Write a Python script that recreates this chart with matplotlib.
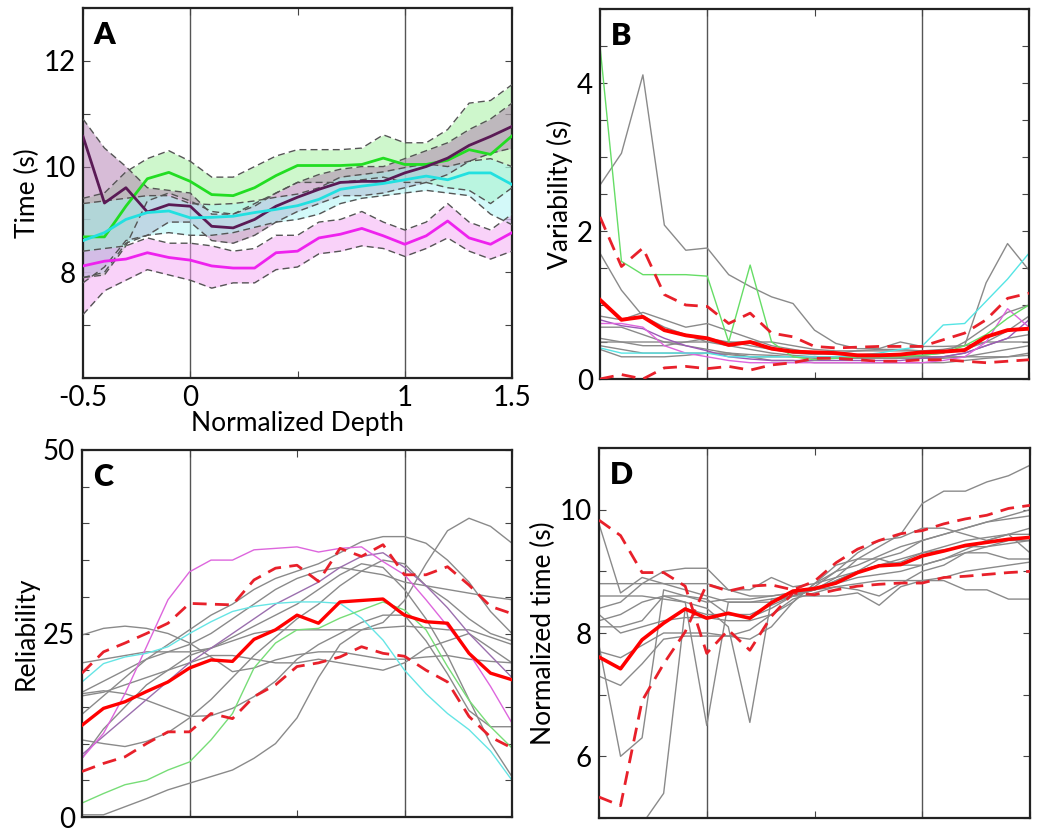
import numpy as np
import matplotlib
matplotlib.use("Agg")
import matplotlib.pyplot as plt

plt.rcParams['font.family'] = ['Lato', 'DejaVu Sans']

depth = [-0.5, -0.4, -0.3, -0.2, -0.1, 0.0, 0.1, 0.2, 0.3, 0.4, 0.5,
         0.6, 0.7, 0.8, 0.9, 1.0, 1.1, 1.2, 1.3, 1.4, 1.5]

# ---------------- Panel A: mean time with bands ----------------
a_green = [8.67, 8.67, 9.25, 9.77, 9.89, 9.72, 9.47, 9.45, 9.6, 9.83, 10.02,
           10.02, 10.02, 10.04, 10.16, 10.04, 10.04, 10.12, 10.32, 10.23, 10.58]
a_green_hi = [9.4, 9.5, 9.9, 10.15, 10.3, 10.1, 9.8, 9.8, 10.0, 10.2, 10.32,
              10.32, 10.32, 10.35, 10.6, 10.45, 10.45, 10.7, 11.2, 11.25, 11.55]
a_green_lo = [7.9, 7.95, 8.5, 9.35, 9.5, 9.35, 9.15, 9.1, 9.25, 9.5, 9.7,
              9.7, 9.7, 9.75, 9.8, 9.7, 9.7, 9.6, 9.55, 9.3, 9.6]

a_purple = [10.57, 9.31, 9.6, 9.14, 9.28, 9.25, 8.87, 8.84, 9.0, 9.25, 9.42,
            9.57, 9.7, 9.72, 9.72, 9.88, 10.0, 10.16, 10.4, 10.57, 10.76]
a_purple_hi = [10.9, 10.35, 10.0, 9.6, 9.55, 9.5, 9.1, 9.1, 9.3, 9.5, 9.7,
               9.85, 9.95, 10.0, 10.0, 10.15, 10.3, 10.45, 10.7, 10.9, 11.2]
a_purple_lo = [7.8, 8.1, 8.6, 8.7, 8.95, 8.95, 8.6, 8.55, 8.7, 8.95, 9.15,
               9.3, 9.45, 9.45, 9.5, 9.6, 9.7, 9.85, 10.1, 10.25, 10.35]

a_cyan = [8.6, 8.75, 9.0, 9.13, 9.16, 9.03, 9.04, 9.06, 9.13, 9.19, 9.26,
          9.38, 9.57, 9.63, 9.68, 9.75, 9.82, 9.75, 9.88, 9.88, 9.66]
a_cyan_hi = [9.3, 9.35, 9.4, 9.45, 9.45, 9.3, 9.28, 9.3, 9.35, 9.42, 9.48,
             9.6, 9.8, 9.85, 9.9, 9.98, 10.05, 10.0, 10.1, 10.15, 10.0]
a_cyan_lo = [7.9, 8.0, 8.55, 8.7, 8.75, 8.7, 8.7, 8.75, 8.85, 8.95, 9.0,
             9.1, 9.3, 9.4, 9.45, 9.5, 9.55, 9.5, 9.45, 9.1, 8.9]

a_mag = [8.12, 8.21, 8.25, 8.37, 8.28, 8.23, 8.12, 8.08, 8.08, 8.37, 8.4,
         8.65, 8.72, 8.83, 8.69, 8.53, 8.69, 8.97, 8.65, 8.53, 8.75]
a_mag_hi = [8.4, 8.45, 8.5, 8.65, 8.55, 8.55, 8.5, 8.4, 8.45, 8.7, 8.7,
            8.95, 9.0, 9.15, 8.95, 8.8, 8.95, 9.3, 8.95, 8.8, 9.1]
a_mag_lo = [7.2, 7.65, 7.85, 8.05, 7.95, 7.85, 7.7, 7.8, 7.8, 8.05, 8.1,
            8.35, 8.4, 8.5, 8.45, 8.3, 8.45, 8.65, 8.4, 8.25, 8.4]

# ---------------- Panel B: variability ----------------
b_mean = [1.07, 0.8, 0.84, 0.66, 0.59, 0.55, 0.46, 0.5, 0.41, 0.37, 0.36,
          0.35, 0.32, 0.32, 0.33, 0.36, 0.37, 0.39, 0.57, 0.66, 0.68]
b_hi = [2.19, 1.52, 1.77, 1.14, 1.0, 0.98, 0.75, 0.89, 0.62, 0.57, 0.44,
        0.42, 0.43, 0.44, 0.44, 0.44, 0.53, 0.62, 0.8, 1.09, 1.16]
b_lo = [0.0, 0.06, 0.0, 0.15, 0.17, 0.14, 0.17, 0.12, 0.19, 0.22, 0.28,
        0.28, 0.26, 0.24, 0.24, 0.26, 0.26, 0.24, 0.22, 0.24, 0.26]
b_green = [4.5, 1.59, 1.41, 1.41, 1.41, 1.39, 0.5, 1.54, 0.5, 0.3, 0.26,
           0.28, 0.3, 0.3, 0.3, 0.32, 0.35, 0.45, 0.6, 0.82, 1.0]
b_cyan = [0.42, 0.35, 0.35, 0.35, 0.35, 0.35, 0.3, 0.3, 0.3, 0.3, 0.3,
          0.3, 0.32, 0.35, 0.4, 0.44, 0.73, 0.75, 1.05, 1.35, 1.7]
b_mag = [0.75, 0.75, 0.7, 0.45, 0.35, 0.3, 0.25, 0.22, 0.22, 0.22, 0.22,
         0.22, 0.22, 0.22, 0.22, 0.22, 0.25, 0.3, 0.5, 0.95, 0.7]
b_purple = [0.8, 0.72, 0.68, 0.55, 0.45, 0.38, 0.3, 0.27, 0.25, 0.25, 0.25,
            0.25, 0.25, 0.25, 0.25, 0.28, 0.3, 0.35, 0.45, 0.55, 0.8]
b_gray = [
    [2.62, 3.05, 4.11, 2.08, 1.74, 1.77, 1.41, 1.25, 1.11, 1.02, 0.66,
     0.48, 0.41, 0.41, 0.5, 0.44, 0.44, 0.45, 1.3, 1.83, 1.47],
    [1.7, 1.2, 0.85, 0.7, 0.6, 0.5, 0.45, 0.4, 0.35, 0.32, 0.3,
     0.3, 0.3, 0.3, 0.3, 0.3, 0.3, 0.35, 0.45, 0.55, 0.6],
    [0.85, 0.8, 0.9, 0.8, 0.7, 0.75, 0.65, 0.55, 0.45, 0.4, 0.35,
     0.33, 0.33, 0.33, 0.3, 0.32, 0.35, 0.5, 0.7, 0.9, 1.0],
    [0.5, 0.5, 0.5, 0.5, 0.5, 0.5, 0.5, 0.5, 0.5, 0.45, 0.4,
     0.38, 0.38, 0.38, 0.38, 0.38, 0.4, 0.45, 0.5, 0.5, 0.5],
    [0.45, 0.4, 0.35, 0.35, 0.35, 0.35, 0.35, 0.33, 0.32, 0.3, 0.28,
     0.28, 0.28, 0.28, 0.28, 0.28, 0.28, 0.3, 0.35, 0.4, 0.45],
    [0.7, 0.7, 0.6, 0.5, 0.45, 0.4, 0.35, 0.3, 0.25, 0.25, 0.22,
     0.22, 0.22, 0.22, 0.22, 0.22, 0.22, 0.25, 0.28, 0.3, 0.32],
    [0.4, 0.3, 0.3, 0.3, 0.32, 0.35, 0.33, 0.3, 0.3, 0.3, 0.3,
     0.3, 0.3, 0.3, 0.3, 0.3, 0.3, 0.3, 0.3, 0.3, 0.35],
    [0.55, 0.5, 0.45, 0.45, 0.5, 0.55, 0.5, 0.45, 0.4, 0.35, 0.33,
     0.35, 0.38, 0.4, 0.4, 0.38, 0.38, 0.4, 0.5, 0.65, 0.85],
]

# ---------------- Panel C: reliability ----------------
c_mean = [12.5, 14.8, 15.7, 17.1, 18.4, 20.3, 21.4, 21.2, 24.2, 25.5, 27.5,
          26.4, 29.3, 29.5, 29.7, 27.5, 26.6, 26.4, 22.3, 19.6, 18.7]
c_hi = [19.6, 22.5, 23.7, 25.0, 26.4, 29.1, 29.0, 28.9, 32.3, 33.9, 34.3,
        32.1, 36.6, 35.5, 37.1, 33.0, 33.0, 34.1, 31.6, 28.7, 27.7]
c_lo = [6.2, 7.3, 8.2, 10.0, 11.6, 11.6, 14.1, 13.4, 16.4, 18.0, 20.5,
        21.0, 21.8, 23.2, 22.3, 21.9, 20.0, 18.4, 13.7, 10.9, 9.4]
c_mag = [8.0, 11.4, 16.8, 23.2, 29.6, 33.4, 35.0, 35.0, 36.4, 36.6, 36.8,
         36.1, 36.6, 36.8, 34.8, 33.0, 29.6, 26.0, 22.3, 17.8, 12.8]
c_cyan = [18.4, 20.9, 21.8, 22.3, 23.2, 25.0, 26.6, 28.0, 28.7, 29.1, 29.3,
          29.3, 29.1, 27.1, 24.1, 20.0, 16.8, 14.1, 11.9, 9.0, 5.0]
c_green = [1.9, 3.2, 4.4, 5.0, 6.4, 7.5, 10.5, 14.1, 20.3, 23.7, 25.5,
           25.7, 27.1, 28.2, 29.3, 28.2, 25.5, 20.5, 15.9, 12.3, 9.4]
c_purple = [8.5, 11.0, 13.5, 16.0, 18.5, 21.0, 23.0, 25.0, 27.0, 29.0, 30.5,
            32.0, 34.0, 35.5, 36.0, 34.0, 31.5, 28.5, 25.0, 22.0, 19.0]
c_gray = [
    [0.3, 0.3, 1.4, 2.5, 3.7, 4.6, 5.5, 6.4, 8.0, 10.0, 13.5,
     19.0, 23.5, 25.5, 26.5, 29.5, 34.5, 39.0, 40.7, 39.6, 37.3],
    [24.8, 25.7, 26.0, 25.7, 25.0, 23.7, 21.8, 19.8, 20.3, 21.4, 22.1,
     22.5, 22.5, 22.0, 21.5, 21.5, 21.8, 22.0, 21.5, 21.2, 21.0],
    [16.8, 17.2, 16.8, 15.9, 14.8, 13.7, 13.8, 14.8, 16.4, 18.5, 21.5,
     23.5, 25.0, 26.5, 27.5, 27.5, 24.0, 19.5, 14.5, 12.3, 12.3],
    [10.5, 10.0, 9.6, 10.3, 11.5, 13.5, 16.0, 19.0, 22.0, 24.5, 27.0,
     29.0, 31.5, 33.5, 35.0, 34.5, 31.5, 29.5, 27.0, 25.0, 24.0],
    [14.0, 16.5, 19.0, 21.5, 23.5, 25.5, 27.5, 29.0, 31.0, 32.5, 33.5,
     34.5, 36.0, 37.5, 38.2, 38.2, 37.3, 35.0, 32.0, 28.0, 25.0],
    [8.0, 12.0, 15.0, 18.0, 20.0, 22.0, 23.0, 24.5, 26.0, 27.5, 29.0,
     31.0, 33.0, 34.5, 34.0, 31.0, 27.0, 22.0, 16.0, 10.0, 5.5],
    [17.0, 18.5, 20.0, 21.5, 22.5, 23.5, 25.0, 27.0, 29.0, 31.0, 32.5,
     33.5, 34.0, 33.5, 33.0, 32.0, 31.5, 31.0, 30.5, 30.0, 29.6],
    [21.0, 21.5, 22.0, 22.5, 22.5, 22.5, 23.0, 24.0, 25.0, 25.5, 25.5,
     25.5, 25.5, 25.5, 25.8, 26.0, 25.8, 25.5, 25.5, 24.5, 23.5],
    [16.5, 17.0, 18.0, 19.0, 20.0, 21.0, 22.0, 22.0, 21.5, 21.0, 21.0,
     21.5, 21.0, 20.5, 20.0, 21.0, 23.0, 24.0, 25.0, 23.0, 21.0],
]

# ---------------- Panel D: normalized time ----------------
d_mean = [7.61, 7.42, 7.89, 8.16, 8.39, 8.24, 8.32, 8.24, 8.49, 8.68, 8.72,
          8.81, 8.98, 9.09, 9.11, 9.25, 9.33, 9.42, 9.47, 9.52, 9.55]
d_dash1 = [9.83, 9.58, 8.98, 8.98, 8.76, 7.67, 8.05, 7.72, 8.27, 8.65, 8.62,
           8.7, 8.76, 8.79, 8.81, 8.81, 8.9, 8.92, 8.95, 8.98, 9.0]
d_dash2 = [5.34, 5.2, 6.9, 7.5, 8.02, 8.79, 8.68, 8.76, 8.78, 8.7, 8.84,
           9.14, 9.36, 9.5, 9.61, 9.66, 9.77, 9.85, 9.91, 10.02, 10.07]
d_gray = [
    [8.6, 8.6, 8.6, 8.55, 8.5, 6.5, 8.5, 8.5, 8.5, 8.6, 8.7,
     8.9, 9.0, 9.1, 9.15, 9.3, 9.4, 9.5, 9.55, 9.6, 9.6],
    [8.2, 8.3, 8.5, 8.6, 8.5, 8.4, 8.1, 6.55, 8.55, 8.6, 8.7,
     8.85, 9.0, 9.1, 9.2, 9.3, 9.35, 9.4, 9.4, 9.45, 9.5],
    [7.8, 6.0, 6.3, 8.7, 8.6, 8.5, 8.55, 8.55, 8.6, 8.65, 8.7,
     8.8, 8.9, 8.95, 9.0, 9.1, 9.2, 9.3, 9.4, 9.5, 9.5],
    [4.5, 4.5, 4.9, 5.4, 8.4, 8.3, 8.3, 8.3, 8.45, 8.6, 8.75,
     9.0, 9.1, 9.25, 9.4, 9.5, 9.6, 9.7, 9.8, 9.9, 10.0],
    [9.77, 8.65, 8.9, 8.8, 8.7, 8.6, 8.5, 8.5, 8.55, 8.6, 8.7,
     8.85, 9.0, 9.2, 9.3, 9.5, 9.6, 9.7, 9.8, 9.85, 9.9],
    [8.8, 8.8, 8.8, 8.8, 8.8, 8.8, 8.7, 8.6, 8.6, 8.65, 8.7,
     8.75, 8.8, 8.85, 8.85, 8.85, 8.9, 9.0, 9.05, 9.1, 9.15],
    [8.4, 8.5, 8.8, 9.0, 9.05, 9.05, 8.7, 8.7, 8.9, 8.75, 8.8,
     8.9, 9.2, 9.4, 9.6, 10.1, 10.3, 10.3, 10.45, 10.55, 10.72],
    [7.3, 7.15, 7.5, 7.9, 7.95, 7.95, 7.95, 8.05, 8.3, 8.5, 8.8,
     9.1, 9.2, 9.2, 9.1, 9.1, 9.2, 9.35, 9.5, 9.6, 9.7],
    [7.7, 7.6, 7.8, 8.0, 8.0, 8.0, 7.95, 7.9, 8.1, 8.5, 8.8,
     9.0, 9.3, 9.5, 9.55, 9.7, 9.7, 9.6, 9.5, 9.6, 9.3],
    [8.3, 8.0, 8.1, 8.2, 8.25, 8.25, 8.2, 8.2, 8.3, 8.55, 8.65,
     8.75, 8.7, 8.6, 8.8, 9.0, 9.1, 9.3, 9.3, 9.2, 9.2],
    [8.1, 8.1, 8.2, 8.6, 8.6, 8.55, 8.3, 8.25, 8.4, 8.6, 8.6,
     8.6, 8.65, 8.45, 8.75, 8.85, 8.85, 8.7, 8.7, 8.55, 8.55],
]

# ---------------- layout ----------------
W, H = 1050, 839
fig = plt.figure(figsize=(W / 100, H / 100), dpi=100)


def add_ax(l, r, t, b):
    return fig.add_axes([l / W, 1 - b / H, (r - l) / W, (b - t) / H])


axA = add_ax(83, 512, 8, 378)
axB = add_ax(600, 1029, 9, 379)
axC = add_ax(82, 512, 450, 817)
axD = add_ax(599, 1030, 448, 818)

TICK_FS = 20
LAB_FS = 19
GRAY = '#8a8a8a'


def style(ax, ylim, yticks, ylabels, letter, ylabel):
    ax.set_xlim(-0.5, 1.5)
    ax.set_ylim(*ylim)
    ax.set_yticks(yticks)
    ax.set_yticklabels(ylabels)
    ax.set_xticks([-0.5, 0, 0.5, 1, 1.5])
    ax.tick_params(direction='in', top=True, right=True, length=5,
                   width=0.8, labelsize=TICK_FS, pad=5, color='#444444')
    for s in ax.spines.values():
        s.set_linewidth(1.6)
        s.set_color('#222222')
    ax.axvline(0, color='#555555', lw=1.0, zorder=1)
    ax.axvline(1, color='#555555', lw=1.0, zorder=1)
    ax.text(0.025, 0.965, letter, transform=ax.transAxes, fontsize=22,
            fontweight='heavy', va='top', ha='left', zorder=10)
    ax.set_ylabel(ylabel, fontsize=LAB_FS, labelpad=3)


# Panel A
style(axA, (6, 13), np.arange(6, 14, 1),
      ['', '', '8', '', '10', '', '12', ''], 'A', 'Time (s)')
axA.set_xticklabels(['-0.5', '0', '', '1', '1.5'])
axA.set_xlabel('Normalized Depth', fontsize=LAB_FS, labelpad=0)
bands = [
    (a_green, a_green_lo, a_green_hi, '#22dd22', '#9ff09a'),
    (a_purple, a_purple_lo, a_purple_hi, '#5a1a55', '#b07ab0'),
    (a_cyan, a_cyan_lo, a_cyan_hi, '#22e0e0', '#a8f4f4'),
    (a_mag, a_mag_lo, a_mag_hi, '#ee22ee', '#f4a6f4'),
]
for m, lo, hi, lc, fc in bands:
    axA.fill_between(depth, lo, hi, color=fc, alpha=0.5, lw=0, zorder=2)
for m, lo, hi, lc, fc in bands:
    axA.plot(depth, lo, color='#555555', lw=1.0, ls=(0, (5, 3)), zorder=3)
    axA.plot(depth, hi, color='#555555', lw=1.0, ls=(0, (5, 3)), zorder=3)
for m, lo, hi, lc, fc in bands:
    axA.plot(depth, m, color=lc, lw=2.0, zorder=4)

# Panel B
style(axB, (0, 5), np.arange(0, 5.01, 0.5),
      ['0', '', '', '', '2', '', '', '', '4', '', ''], 'B', 'Variability (s)')
axB.set_xticklabels([])
for g in b_gray:
    axB.plot(depth, g, color=GRAY, lw=1.0, zorder=2)
axB.plot(depth, b_purple, color='#9b59b6', lw=1.0, zorder=2)
axB.plot(depth, b_mag, color='#dd66dd', lw=1.0, zorder=2)
axB.plot(depth, b_cyan, color='#55e5e5', lw=1.0, zorder=2)
axB.plot(depth, b_green, color='#66dd66', lw=1.0, zorder=2)
axB.plot(depth, b_hi, color='#e8202a', lw=2.0, ls=(0, (5, 3)), zorder=4)
axB.plot(depth, b_lo, color='#e8202a', lw=2.0, ls=(0, (5, 3)), zorder=4)
axB.plot(depth, b_mean, color='#ff0000', lw=2.8, zorder=5)

# Panel C
style(axC, (0, 50), np.arange(0, 51, 5),
      ['0', '', '', '', '', '25', '', '', '', '', '50'], 'C', 'Reliability')
axC.set_xticklabels([])
for g in c_gray:
    axC.plot(depth, g, color=GRAY, lw=1.0, zorder=2)
axC.plot(depth, c_purple, color='#9b6fae', lw=1.0, zorder=2)
axC.plot(depth, c_mag, color='#dd66dd', lw=1.0, zorder=2)
axC.plot(depth, c_cyan, color='#66e5e5', lw=1.0, zorder=2)
axC.plot(depth, c_green, color='#77dd77', lw=1.0, zorder=2)
axC.plot(depth, c_hi, color='#e8202a', lw=2.0, ls=(0, (5, 3)), zorder=4)
axC.plot(depth, c_lo, color='#e8202a', lw=2.0, ls=(0, (5, 3)), zorder=4)
axC.plot(depth, c_mean, color='#ff0000', lw=2.4, zorder=5)

# Panel D
style(axD, (5, 11), np.arange(5, 11.01, 1),
      ['', '6', '', '8', '', '10', ''], 'D', 'Normalized time (s)')
axD.set_xticklabels([])
for g in d_gray:
    axD.plot(depth, g, color=GRAY, lw=1.0, zorder=2)
axD.plot(depth, d_dash1, color='#e8202a', lw=2.0, ls=(0, (5, 3)), zorder=4)
axD.plot(depth, d_dash2, color='#e8202a', lw=2.0, ls=(0, (5, 3)), zorder=4)
axD.plot(depth, d_mean, color='#ff0000', lw=2.6, zorder=5)

fig.savefig('out.png', dpi=100)
